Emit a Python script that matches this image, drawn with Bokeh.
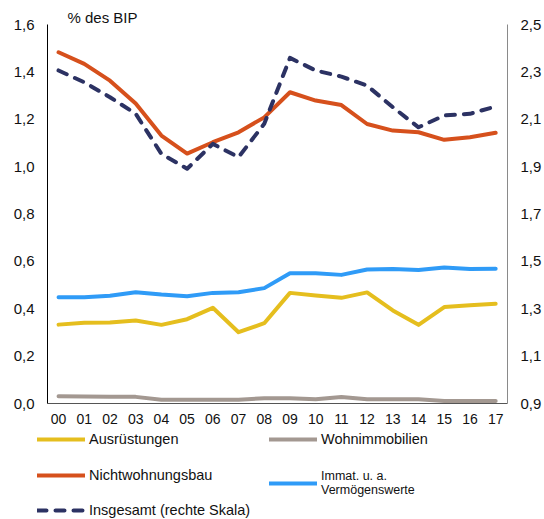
from bokeh.plotting import figure
from bokeh.models import (Range1d, LinearAxis, FixedTicker, CustomJSTickFormatter,
                          Legend, LegendItem, ColumnDataSource)
from bokeh.embed import file_html
from bokeh.resources import INLINE

years = ["00", "01", "02", "03", "04", "05", "06", "07", "08", "09",
         "10", "11", "12", "13", "14", "15", "16", "17"]
ausruestungen = [0.333, 0.341, 0.342, 0.350, 0.332, 0.356, 0.404, 0.301, 0.339,
                 0.467, 0.456, 0.446, 0.469, 0.393, 0.332, 0.407, 0.415, 0.421]
wohnimmobilien = [0.031, 0.030, 0.028, 0.028, 0.016, 0.016, 0.016, 0.016, 0.022,
                  0.022, 0.018, 0.027, 0.018, 0.018, 0.018, 0.011, 0.011, 0.011]
nichtwohnungsbau = [1.483, 1.434, 1.363, 1.266, 1.131, 1.055, 1.103, 1.145, 1.208,
                    1.314, 1.279, 1.260, 1.180, 1.152, 1.145, 1.113, 1.124, 1.143]
immat = [0.449, 0.449, 0.455, 0.470, 0.460, 0.453, 0.467, 0.470, 0.487,
         0.550, 0.550, 0.543, 0.566, 0.568, 0.564, 0.574, 0.568, 0.569]
insgesamt = [2.306, 2.256, 2.193, 2.123, 1.954, 1.891, 1.996, 1.940, 2.081,
             2.359, 2.306, 2.280, 2.242, 2.151, 2.066, 2.116, 2.123, 2.154]
left_ticks = [0.0, 0.2, 0.4, 0.6, 0.8, 1.0, 1.2, 1.4, 1.6]
right_ticks = [0.9, 1.1, 1.3, 1.5, 1.7, 1.9, 2.1, 2.3, 2.5]
labels = ["Ausrüstungen", "Wohnimmobilien", "Nichtwohnungsbau",
          "Immat. u. a.\nVermögenswerte", "Insgesamt (rechte Skala)"]
columns = ["a", "w", "n", "i", "t"]

FONT = "Liberation Sans"
TXT = "#111111"
C_YEL = "#E5BE1E"
C_GRY = "#A39891"
C_ORG = "#D6501C"
C_BLU = "#2F9BF7"
C_NAV = "#2C3263"

xs = list(range(len(years)))
src = ColumnDataSource(dict(x=xs, a=ausruestungen, w=wohnimmobilien, n=nichtwohnungsbau,
                            i=immat, t=insgesamt))

chart = figure(width=544, height=430, output_backend="svg", toolbar_location=None,
               x_range=Range1d(-0.43, 17.46), y_range=Range1d(0, 1.6),
               min_border_left=47, min_border_right=35, min_border_top=24,
               min_border_bottom=27)
chart.extra_y_ranges = {"right": Range1d(0.9, 2.5)}
chart.outline_line_color = None
chart.xgrid.visible = False
chart.ygrid.visible = False

chart.title.text = "% des BIP"
chart.title.text_font = FONT
chart.title.text_font_size = "15px"
chart.title.text_font_style = "normal"
chart.title.text_color = TXT
chart.title.offset = 20
chart.title.standoff = -3

fmt = CustomJSTickFormatter(code="return tick.toFixed(1).replace('.', ',');")


def style_axis(ax, line_color, size, standoff):
    ax.axis_line_color = line_color
    ax.major_tick_line_color = None
    ax.minor_tick_line_color = None
    ax.major_tick_out = 0
    ax.major_tick_in = 0
    ax.minor_tick_out = 0
    ax.minor_tick_in = 0
    ax.major_label_standoff = standoff
    ax.major_label_text_font = FONT
    ax.major_label_text_font_size = size
    ax.major_label_text_color = TXT


yax = chart.yaxis[0]
yax.ticker = FixedTicker(ticks=left_ticks)
yax.formatter = fmt
style_axis(yax, "black", "15px", 13)

rax = LinearAxis(y_range_name="right", ticker=FixedTicker(ticks=right_ticks), formatter=fmt)
style_axis(rax, "#8a8a8a", "15px", 13)
chart.add_layout(rax, "right")

xax = chart.xaxis[0]
xax.ticker = FixedTicker(ticks=xs)
xax.major_label_overrides = {i: y for i, y in enumerate(years)}
style_axis(xax, "#555555", "14px", 10)

kw = dict(line_width=4, line_join="round", line_cap="round")
styles = {"a": dict(line_color=C_YEL), "w": dict(line_color=C_GRY),
          "n": dict(line_color=C_ORG), "i": dict(line_color=C_BLU),
          "t": dict(line_color=C_NAV, line_dash="9 9")}

for c in ["w", "a", "i", "n"]:
    chart.line("x", c, source=src, **styles[c], **kw)
chart.line("x", "t", source=src, y_range_name="right", **styles["t"], **kw)

# legend panel (separate figure below the chart)
lf = figure(width=544, height=89, output_backend="svg", toolbar_location=None,
            x_axis_type=None, y_axis_type=None, min_border=0,
            x_range=Range1d(0, 1), y_range=Range1d(0, 1))
lf.outline_line_color = None
lf.xgrid.visible = False
lf.ygrid.visible = False

# legend-only renderers (hidden, same styles as the chart lines)
proxies = [lf.line("x", c, source=src, visible=False, **styles[c], **kw) for c in columns]

locs = [(37, 72), (269, 72), (37, 36), (269, 21), (37, 1)]
for k, (lab, rend, loc) in enumerate(zip(labels, proxies, locs)):
    small = (k == 3)
    h = 30 if small else 16
    lg = Legend(items=[LegendItem(label=lab, renderers=[rend])], location=loc,
                orientation="vertical", glyph_width=48, glyph_height=h,
                label_height=h, label_standoff=4, padding=0, margin=0, spacing=0,
                border_line_color=None, background_fill_alpha=0,
                label_text_font=FONT,
                label_text_font_size="12.5px" if small else "14.5px",
                label_text_color=TXT)
    lf.add_layout(lg, "center")

p = [chart, lf]
open("out.html", "w").write(file_html(p, INLINE))
